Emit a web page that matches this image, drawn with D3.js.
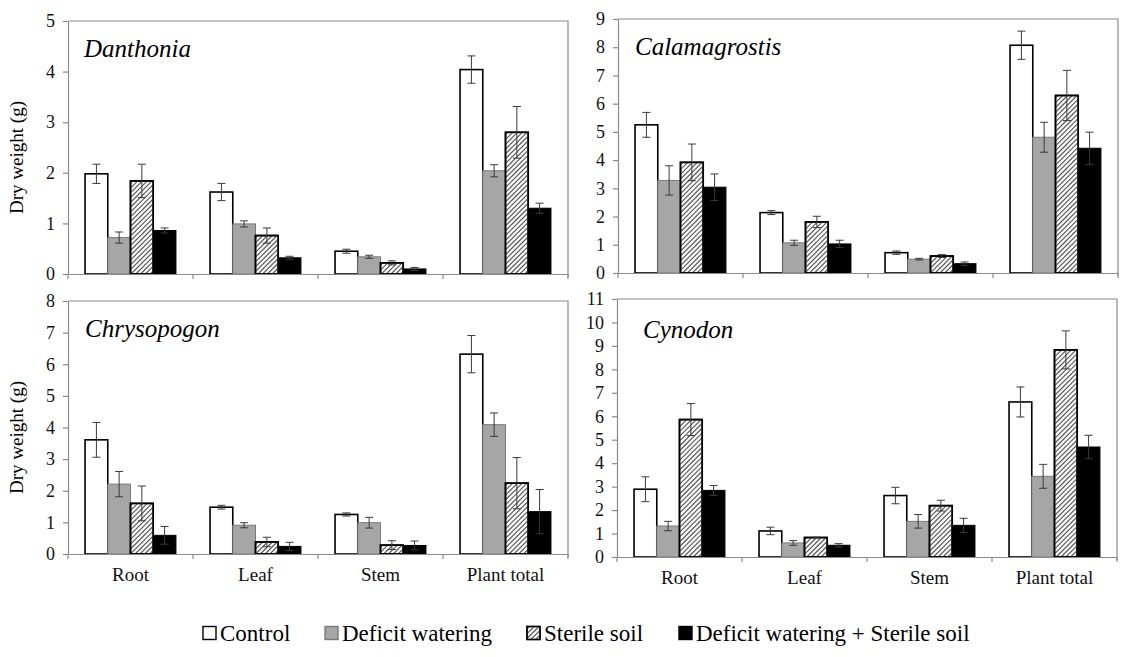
<!DOCTYPE html>
<html>
<head>
<meta charset="utf-8">
<script src="https://cdn.jsdelivr.net/npm/d3@7"></script>
<style>
  body { margin: 0; background: #fff; }
  svg { display: block; }
</style>
</head>
<body>
<script>
const categories = ['Root', 'Leaf', 'Stem', 'Plant total'];
const treatments = ['Control', 'Deficit watering', 'Sterile soil', 'Deficit watering + Sterile soil'];

// one row per category, one column per treatment
const danthoniaMean = [[1.98, 0.72, 1.84, 0.86], [1.62, 0.99, 0.76, 0.32], [0.45, 0.34, 0.22, 0.10], [4.04, 2.04, 2.80, 1.30]];
const danthoniaErr  = [[0.19, 0.11, 0.33, 0.05], [0.17, 0.06, 0.15, 0.03], [0.04, 0.03, 0.04, 0.03], [0.27, 0.12, 0.51, 0.10]];

const calamagrostisMean = [[5.25, 3.28, 3.92, 3.04], [2.14, 1.07, 1.81, 1.03], [0.72, 0.49, 0.60, 0.33], [8.07, 4.81, 6.29, 4.42]];
const calamagrostisErr  = [[0.44, 0.52, 0.65, 0.47], [0.07, 0.09, 0.20, 0.13], [0.06, 0.03, 0.05, 0.06], [0.50, 0.53, 0.89, 0.57]];

const chrysopogonMean = [[3.61, 2.21, 1.60, 0.59], [1.48, 0.91, 0.38, 0.24], [1.25, 0.99, 0.28, 0.27], [6.32, 4.09, 2.24, 1.34]];
const chrysopogonErr  = [[0.55, 0.40, 0.55, 0.28], [0.06, 0.08, 0.15, 0.13], [0.05, 0.17, 0.14, 0.14], [0.59, 0.37, 0.81, 0.70]];

const cynodonMean = [[2.89, 1.32, 5.86, 2.84], [1.11, 0.60, 0.83, 0.50], [2.62, 1.52, 2.19, 1.35], [6.61, 3.44, 8.83, 4.69]];
const cynodonErr  = [[0.53, 0.20, 0.68, 0.21], [0.16, 0.10, 0.02, 0.07], [0.35, 0.29, 0.23, 0.30], [0.64, 0.51, 0.81, 0.50]];

const yMaxes = [5, 9, 8, 11];

const width = 1123, height = 657;

const svg = d3.select('body').append('svg')
    .attr('width', width)
    .attr('height', height);

// diagonal "/" hatch inside a box, lines x + y = c
function hatch(g, bx, by, bw, bh) {
  const step = 4.8;
  const segs = [];
  for (let c = bx + by + step / 2; c < bx + bw + by + bh; c += step) {
    const xa = Math.max(bx, c - (by + bh));
    const xb = Math.min(bx + bw, c - by);
    if (xb > xa) segs.push([xa, c - xa, xb, c - xb]);
  }
  g.selectAll(null)
    .data(segs)
    .enter().append('line')
      .attr('x1', d => d[0]).attr('y1', d => d[1])
      .attr('x2', d => d[2]).attr('y2', d => d[3])
      .attr('stroke', '#5a5a5a')
      .attr('stroke-width', 1.2);
}

const fills = ['#ffffff', '#a6a6a6', '#ffffff', '#000000'];
const strokes = ['#000', '#7a7a7a', '#000', '#000'];
const strokeW = [1.6, 1, 1.6, 1];

const panels = [
  { name: 'Danthonia', mean: danthoniaMean, err: danthoniaErr, yMax: yMaxes[0],
    x0: 68, x1: 568, y0: 21, y1: 274, labels: false, yTitle: true, tx: 84, ty: 57 },
  { name: 'Calamagrostis', mean: calamagrostisMean, err: calamagrostisErr, yMax: yMaxes[1],
    x0: 618, x1: 1118, y0: 19, y1: 273, labels: false, yTitle: false, tx: 635, ty: 55 },
  { name: 'Chrysopogon', mean: chrysopogonMean, err: chrysopogonErr, yMax: yMaxes[2],
    x0: 68, x1: 568, y0: 301, y1: 554, labels: true, yTitle: true, tx: 85, ty: 337 },
  { name: 'Cynodon', mean: cynodonMean, err: cynodonErr, yMax: yMaxes[3],
    x0: 617, x1: 1117, y0: 299, y1: 557, labels: true, yTitle: false, tx: 643, ty: 338 }
];

panels.forEach(p => {
  const g = svg.append('g');

  const x = d3.scaleBand().domain(categories).range([p.x0, p.x1]);
  const xs = d3.scaleBand().domain(treatments).range([0, x.bandwidth()]).paddingOuter(0.75);
  const y = d3.scaleLinear().domain([0, p.yMax]).range([p.y1, p.y0]);

  // plot area frame (top and right)
  g.append('path')
      .attr('d', `M${p.x0},${p.y0}H${p.x1}V${p.y1 + 3}`)
      .attr('fill', 'none')
      .attr('stroke', '#8a8a8a')
      .attr('stroke-width', 1.2);

  // bars
  categories.forEach((c, ci) => {
    const rows = treatments.map((t, ti) => ({ t, ti, v: p.mean[ci][ti], e: p.err[ci][ti] }));
    const cg = g.append('g').attr('transform', `translate(${x(c)},0)`);
    cg.selectAll('rect')
      .data(rows)
      .enter().append('rect')
        .attr('x', d => xs(d.t))
        .attr('width', xs.bandwidth())
        .attr('y', d => y(d.v))
        .attr('height', d => y(0) - y(d.v))
        .attr('fill', d => fills[d.ti])
        .attr('stroke', d => strokes[d.ti])
        .attr('stroke-width', d => strokeW[d.ti]);

    // hatching on the sterile soil bar, then redraw its outline
    const h = rows[2];
    const hg = cg.append('g');
    hatch(hg, xs(h.t), y(h.v), xs.bandwidth(), y(0) - y(h.v));
    hg.append('rect')
        .attr('x', xs(h.t)).attr('y', y(h.v))
        .attr('width', xs.bandwidth()).attr('height', y(0) - y(h.v))
        .attr('fill', 'none').attr('stroke', '#000').attr('stroke-width', 1.6);

    // error bars
    const eb = cg.selectAll('g.err')
      .data(rows)
      .enter().append('g')
        .attr('class', 'err')
        .attr('stroke', '#3a3a3a')
        .attr('stroke-width', 1);
    const cx = d => xs(d.t) + xs.bandwidth() / 2;
    eb.append('line')
        .attr('x1', cx).attr('x2', cx)
        .attr('y1', d => y(d.v - d.e)).attr('y2', d => y(d.v + d.e));
    eb.append('line')
        .attr('x1', d => cx(d) - 4).attr('x2', d => cx(d) + 4)
        .attr('y1', d => y(d.v + d.e)).attr('y2', d => y(d.v + d.e));
    eb.append('line')
        .attr('x1', d => cx(d) - 4).attr('x2', d => cx(d) + 4)
        .attr('y1', d => y(d.v - d.e)).attr('y2', d => y(d.v - d.e));
  });

  // y axis
  const yAxis = g.append('g')
      .attr('transform', `translate(${p.x0},0)`)
      .call(d3.axisLeft(y)
        .tickValues(d3.range(0, p.yMax + 1))
        .tickFormat(d3.format('d'))
        .tickSize(5).tickSizeOuter(0).tickPadding(8));
  yAxis.attr('font-family', null).attr('font-size', null);
  yAxis.selectAll('path, line').attr('stroke', '#8a8a8a').attr('stroke-width', 1.2);
  yAxis.selectAll('text')
      .attr('fill', '#111')
      .style('font-family', 'Liberation Serif')
      .style('font-size', '18px');

  // x axis: line, boundary ticks, labels
  const xAxis = g.append('g')
      .attr('transform', `translate(0,${p.y1})`)
      .call(d3.axisBottom(x).tickSize(0).tickSizeOuter(0).tickPadding(14));
  xAxis.attr('font-family', null).attr('font-size', null);
  xAxis.select('path').attr('stroke', '#8a8a8a').attr('stroke-width', 1.2);
  xAxis.selectAll('text')
      .attr('fill', '#111')
      .style('font-family', 'Liberation Serif')
      .style('font-size', '19px');
  if (!p.labels) xAxis.selectAll('text').remove();
  xAxis.selectAll('line.bound')
    .data(categories.map(c => x(c)).concat([p.x1]))
    .enter().append('line')
      .attr('class', 'bound')
      .attr('x1', d => d).attr('x2', d => d)
      .attr('y1', 0).attr('y2', 5)
      .attr('stroke', '#8a8a8a')
      .attr('stroke-width', 1.2);

  // species name
  svg.append('text')
      .attr('x', p.tx)
      .attr('y', p.ty)
      .style('font-family', 'Liberation Serif')
      .style('font-size', '25px')
      .style('font-style', 'italic')
      .text(p.name);

  if (p.yTitle) {
    svg.append('text')
        .attr('transform', `translate(23,${(p.y0 + p.y1) / 2 + 10}) rotate(-90)`)
        .attr('text-anchor', 'middle')
        .style('font-family', 'Liberation Serif')
        .style('font-size', '19px')
        .text('Dry weight (g)');
  }
});

// legend
const legendX = [203, 325, 527, 679];
const legend = svg.append('g').attr('transform', 'translate(0,633)');
const item = legend.selectAll('g')
  .data(treatments)
  .enter().append('g')
    .attr('transform', (d, i) => `translate(${legendX[i]},0)`);
item.append('rect')
    .attr('x', 0).attr('y', -6.5)
    .attr('width', 13).attr('height', 13)
    .attr('fill', (d, i) => fills[i])
    .attr('stroke', (d, i) => i === 1 ? '#7a7a7a' : '#000')
    .attr('stroke-width', 1.4);
item.filter((d, i) => i === 2).each(function() {
  const lg = d3.select(this);
  hatch(lg, 0, -6.5, 13, 13);
  lg.append('rect').attr('x', 0).attr('y', -6.5).attr('width', 13).attr('height', 13)
    .attr('fill', 'none').attr('stroke', '#000').attr('stroke-width', 1.4);
});
item.append('text')
    .attr('x', 17)
    .attr('y', 7.5)
    .style('font-family', 'Liberation Serif')
    .style('font-size', '23px')
    .text(d => d);
</script>
</body>
</html>
